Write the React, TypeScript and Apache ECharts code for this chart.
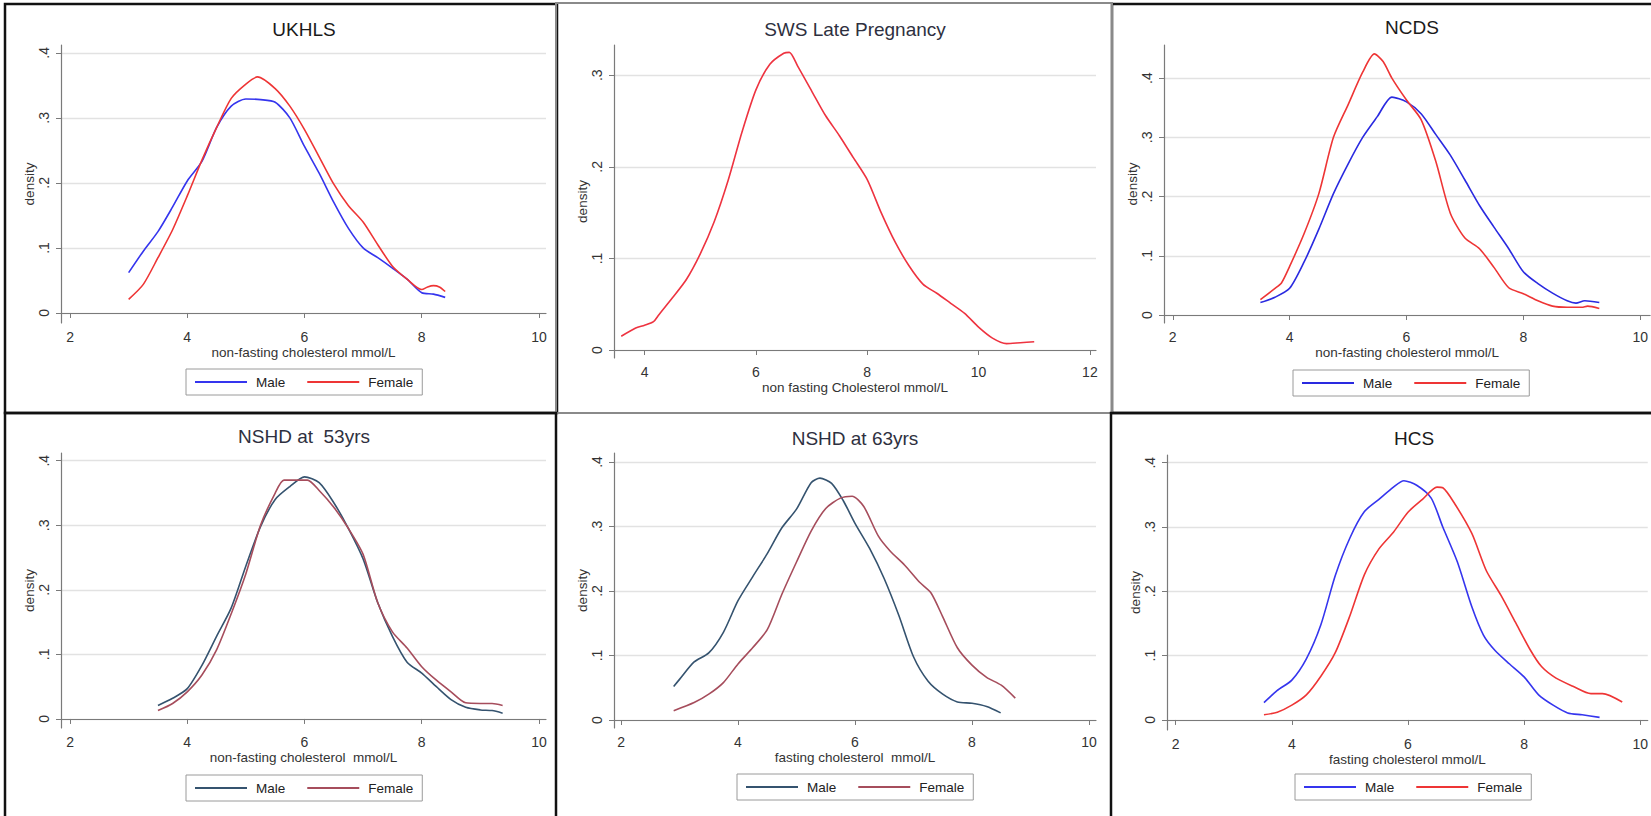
import React, { useEffect, useRef } from 'react';
import * as echarts from 'echarts';

// ---------- DATA ----------
const ukhlsMaleX = [3.0, 3.25, 3.5, 3.75, 4.0, 4.25, 4.5, 4.75, 5.0, 5.25, 5.5, 5.75, 6.0, 6.25, 6.5, 6.75, 7.0, 7.25, 7.5, 7.75, 8.0, 8.2, 8.4];
const ukhlsMaleY = [0.062, 0.095, 0.125, 0.163, 0.203, 0.233, 0.285, 0.318, 0.329, 0.328, 0.324, 0.3, 0.256, 0.215, 0.17, 0.13, 0.1, 0.085, 0.069, 0.052, 0.031, 0.029, 0.024];
const ukhlsFemaleX = [3.0, 3.25, 3.5, 3.75, 4.0, 4.25, 4.5, 4.75, 5.0, 5.2, 5.5, 5.75, 6.0, 6.25, 6.5, 6.75, 7.0, 7.25, 7.5, 7.75, 8.0, 8.1, 8.2, 8.3, 8.4];
const ukhlsFemaleY = [0.021, 0.044, 0.085, 0.128, 0.18, 0.235, 0.285, 0.33, 0.352, 0.363, 0.345, 0.318, 0.282, 0.24, 0.198, 0.165, 0.14, 0.105, 0.072, 0.052, 0.036, 0.04, 0.042, 0.04, 0.033];

const swsX = [3.58, 3.84, 4.0, 4.16, 4.25, 4.5, 4.75, 5.0, 5.25, 5.5, 5.75, 6.0, 6.25, 6.5, 6.6, 6.75, 7.0, 7.25, 7.5, 7.75, 8.0, 8.25, 8.5, 8.75, 9.0, 9.25, 9.5, 9.75, 10.0, 10.25, 10.5, 10.75, 11.0];
const swsY = [0.015, 0.024, 0.027, 0.031, 0.038, 0.057, 0.077, 0.105, 0.14, 0.185, 0.238, 0.284, 0.312, 0.324, 0.325, 0.31, 0.283, 0.256, 0.234, 0.21, 0.186, 0.15, 0.118, 0.092, 0.072, 0.062, 0.051, 0.04, 0.025, 0.013, 0.007, 0.008, 0.009];

const ncdsMaleX = [3.5, 3.75, 4.0, 4.25, 4.5, 4.75, 5.0, 5.25, 5.5, 5.75, 6.0, 6.25, 6.5, 6.75, 7.0, 7.25, 7.5, 7.75, 8.0, 8.25, 8.5, 8.75, 8.9, 9.05, 9.3];
const ncdsMaleY = [0.021, 0.03, 0.045, 0.09, 0.145, 0.205, 0.255, 0.3, 0.335, 0.368, 0.36, 0.34, 0.305, 0.27, 0.228, 0.185, 0.148, 0.112, 0.073, 0.053, 0.037, 0.024, 0.02, 0.024, 0.021];
const ncdsFemaleX = [3.5, 3.75, 3.86, 4.0, 4.25, 4.5, 4.75, 5.0, 5.25, 5.45, 5.6, 5.75, 6.0, 6.25, 6.5, 6.75, 7.0, 7.25, 7.5, 7.75, 8.0, 8.25, 8.5, 8.75, 9.0, 9.1, 9.3];
const ncdsFemaleY = [0.026, 0.045, 0.054, 0.082, 0.138, 0.205, 0.3, 0.355, 0.41, 0.441, 0.428, 0.4, 0.363, 0.33, 0.26, 0.172, 0.13, 0.112, 0.08, 0.046, 0.036, 0.024, 0.015, 0.013, 0.013, 0.015, 0.011];

const nshd53MaleX = [3.5, 3.75, 4.0, 4.25, 4.5, 4.75, 5.0, 5.25, 5.5, 5.75, 6.0, 6.25, 6.5, 6.75, 7.0, 7.25, 7.5, 7.75, 8.0, 8.25, 8.5, 8.75, 9.0, 9.2, 9.38];
const nshd53MaleY = [0.021, 0.032, 0.047, 0.083, 0.128, 0.172, 0.237, 0.298, 0.34, 0.36, 0.375, 0.366, 0.335, 0.295, 0.248, 0.18, 0.128, 0.088, 0.071, 0.05, 0.03, 0.018, 0.014, 0.013, 0.009];
const nshd53FemaleX = [3.5, 3.75, 4.0, 4.25, 4.5, 4.75, 5.0, 5.25, 5.5, 5.65, 5.9, 6.05, 6.25, 6.5, 6.75, 7.0, 7.25, 7.5, 7.75, 8.0, 8.25, 8.5, 8.75, 9.0, 9.2, 9.38];
const nshd53FemaleY = [0.013, 0.024, 0.042, 0.068, 0.107, 0.163, 0.225, 0.3, 0.35, 0.37, 0.37, 0.37, 0.354, 0.328, 0.295, 0.255, 0.18, 0.135, 0.11, 0.081, 0.06, 0.042, 0.025, 0.024, 0.024, 0.021];

const nshd63MaleX = [2.9, 3.0, 3.25, 3.5, 3.75, 4.0, 4.25, 4.5, 4.75, 5.0, 5.25, 5.4, 5.6, 5.8, 6.0, 6.25, 6.5, 6.75, 7.0, 7.25, 7.5, 7.75, 8.0, 8.25, 8.49];
const nshd63MaleY = [0.052, 0.063, 0.09, 0.104, 0.136, 0.185, 0.222, 0.258, 0.298, 0.327, 0.368, 0.375, 0.367, 0.34, 0.305, 0.266, 0.219, 0.162, 0.098, 0.06, 0.04, 0.028, 0.026, 0.021, 0.011];
const nshd63FemaleX = [2.9, 3.25, 3.5, 3.75, 4.0, 4.25, 4.5, 4.75, 5.0, 5.25, 5.5, 5.75, 5.95, 6.15, 6.4, 6.6, 6.85, 7.1, 7.3, 7.5, 7.75, 8.0, 8.25, 8.5, 8.74];
const nshd63FemaleY = [0.0145, 0.027, 0.04, 0.058, 0.087, 0.112, 0.14, 0.195, 0.245, 0.293, 0.328, 0.344, 0.347, 0.331, 0.285, 0.262, 0.24, 0.214, 0.197, 0.16, 0.112, 0.085, 0.066, 0.054, 0.034];

const hcsMaleX = [3.52, 3.75, 4.0, 4.25, 4.5, 4.75, 5.0, 5.25, 5.5, 5.75, 5.93, 6.15, 6.4, 6.6, 6.85, 7.1, 7.3, 7.5, 7.75, 8.0, 8.25, 8.5, 8.75, 9.0, 9.3];
const hcsMaleY = [0.027, 0.046, 0.062, 0.095, 0.148, 0.225, 0.283, 0.324, 0.343, 0.362, 0.372, 0.365, 0.345, 0.3, 0.246, 0.176, 0.132, 0.108, 0.087, 0.067, 0.039, 0.023, 0.011, 0.008, 0.004];
const hcsFemaleX = [3.52, 3.75, 4.0, 4.25, 4.5, 4.75, 5.0, 5.25, 5.5, 5.75, 6.0, 6.25, 6.5, 6.6, 6.8, 7.1, 7.35, 7.6, 7.85, 8.1, 8.3, 8.55, 8.85, 9.15, 9.35, 9.69];
const hcsFemaleY = [0.008, 0.012, 0.023, 0.039, 0.068, 0.105, 0.162, 0.226, 0.266, 0.292, 0.323, 0.343, 0.362, 0.361, 0.337, 0.29, 0.232, 0.194, 0.152, 0.11, 0.083, 0.065, 0.052, 0.041, 0.041, 0.028];

const xTicksMain = [2, 4, 6, 8, 10];
const xTicksSws = [4, 6, 8, 10, 12];
const yTicksMain = [0, 0.1, 0.2, 0.3, 0.4];
const yTicksSws = [0, 0.1, 0.2, 0.3];

const titles = ['UKHLS', 'SWS Late Pregnancy', 'NCDS', 'NSHD at  53yrs', 'NSHD at 63yrs', 'HCS'];
const xTitles = [
  'non-fasting cholesterol mmol/L',
  'non fasting Cholesterol mmol/L',
  'non-fasting cholesterol mmol/L',
  'non-fasting cholesterol  mmol/L',
  'fasting cholesterol  mmol/L',
  'fasting cholesterol mmol/L',
];
const sexLabels = ['Male', 'Female'];

// ---------- LAYOUT / STYLE ----------
const FONT = 'Liberation Sans, Arial, Helvetica, sans-serif';
const BLUE = '#3535ee';
const RED = '#ee3535';
const SLATE = '#35536f';
const ROSE = '#a64d5c';

const zip = (xs: number[], ys: number[]) => xs.map((x, i) => [x, ys[i]]);

type Panel = {
  grid: { left: number; top: number; width: number; height: number };
  x: [number, number];
  y: [number, number];
  xTicks: number[];
  yTicks: number[];
  titlePos: [number, number];
  titleColor: string;
  legendPos: [number, number] | null;
  series: { name: string; xs: number[]; ys: number[]; color: string }[];
};

const panels: Panel[] = [
  {
    grid: { left: 61, top: 45, width: 485, height: 278 },
    x: [1.846, 10.12], y: [-0.0154, 0.412], xTicks: xTicksMain, yTicks: yTicksMain,
    titlePos: [304, 30], titleColor: '#1a1a1a', legendPos: [186, 369],
    series: [
      { name: 'Male', xs: ukhlsMaleX, ys: ukhlsMaleY, color: BLUE },
      { name: 'Female', xs: ukhlsFemaleX, ys: ukhlsFemaleY, color: RED },
    ],
  },
  {
    grid: { left: 614, top: 45, width: 482, height: 313 },
    x: [3.45, 12.11], y: [-0.0087, 0.333], xTicks: xTicksSws, yTicks: yTicksSws,
    titlePos: [855, 30], titleColor: '#2e3040', legendPos: null,
    series: [{ name: 'SWS', xs: swsX, ys: swsY, color: '#ee3340' }],
  },
  {
    grid: { left: 1164, top: 45, width: 496, height: 278 },
    x: [1.85, 10.17], y: [-0.0135, 0.456], xTicks: xTicksMain, yTicks: yTicksMain,
    titlePos: [1412, 28], titleColor: '#1a1a1a', legendPos: [1293, 370],
    series: [
      { name: 'Male', xs: ncdsMaleX, ys: ncdsMaleY, color: '#2a2ae0' },
      { name: 'Female', xs: ncdsFemaleX, ys: ncdsFemaleY, color: RED },
    ],
  },
  {
    grid: { left: 61, top: 453, width: 485, height: 275 },
    x: [1.846, 10.12], y: [-0.014, 0.412], xTicks: xTicksMain, yTicks: yTicksMain,
    titlePos: [304, 437], titleColor: '#2e3040', legendPos: [186, 775],
    series: [
      { name: 'Male', xs: nshd53MaleX, ys: nshd53MaleY, color: SLATE },
      { name: 'Female', xs: nshd53FemaleX, ys: nshd53FemaleY, color: ROSE },
    ],
  },
  {
    grid: { left: 614, top: 453, width: 482, height: 275 },
    x: [1.88, 10.12], y: [-0.0124, 0.414], xTicks: xTicksMain, yTicks: yTicksMain,
    titlePos: [855, 439], titleColor: '#2e3040', legendPos: [737, 774],
    series: [
      { name: 'Male', xs: nshd63MaleX, ys: nshd63MaleY, color: SLATE },
      { name: 'Female', xs: nshd63FemaleX, ys: nshd63FemaleY, color: ROSE },
    ],
  },
  {
    grid: { left: 1167, top: 455, width: 493, height: 275 },
    x: [1.85, 10.13], y: [-0.0156, 0.412], xTicks: xTicksMain, yTicks: yTicksMain,
    titlePos: [1414, 439], titleColor: '#1a1a1a', legendPos: [1295, 774],
    series: [
      { name: 'Male', xs: hcsMaleX, ys: hcsMaleY, color: BLUE },
      { name: 'Female', xs: hcsFemaleX, ys: hcsFemaleY, color: RED },
    ],
  },
];

const yFmt = (v: number) => (Math.abs(v) < 1e-9 ? '0' : '.' + Math.round(v * 10));

function buildOption() {
  const axisColor = '#7a7a7a';
  const labelColor = '#333';
  const grid = panels.map((p) => ({ ...p.grid, containLabel: false }));
  const xAxis = panels.map((p, i) => ({
    type: 'value', gridIndex: i, min: p.x[0], max: p.x[1],
    name: xTitles[i], nameLocation: 'middle', nameGap: 22,
    nameTextStyle: { fontSize: 13.5, color: labelColor, fontFamily: FONT },
    axisLine: { show: true, lineStyle: { color: axisColor, width: 1.2 } },
    axisTick: { show: true, length: 5, customValues: p.xTicks, lineStyle: { color: axisColor } },
    axisLabel: { customValues: p.xTicks, margin: 7, fontSize: 14, color: labelColor, fontFamily: FONT },
    splitLine: { show: false },
  }));
  const yAxis = panels.map((p, i) => ({
    type: 'value', gridIndex: i, min: p.y[0], max: p.y[1],
    name: 'density', nameLocation: 'middle', nameGap: 25,
    nameTextStyle: { fontSize: 13.5, color: labelColor, fontFamily: FONT },
    axisLine: { show: true, lineStyle: { color: axisColor, width: 1.2 } },
    axisTick: { show: true, length: 5, customValues: p.yTicks, lineStyle: { color: axisColor } },
    axisLabel: { customValues: p.yTicks, rotate: 90, margin: 10, fontSize: 14, color: labelColor, fontFamily: FONT, formatter: yFmt },
    splitLine: { show: true, customValues: p.yTicks, lineStyle: { color: '#e2e2e2', width: 1.3 } },
  }));
  const series: any[] = [];
  panels.forEach((p, i) => {
    p.series.forEach((s) => {
      series.push({
        type: 'line', name: titles[i] + '|' + s.name, xAxisIndex: i, yAxisIndex: i,
        data: zip(s.xs, s.ys), symbol: 'none', showSymbol: false, smooth: 0.25,
        lineStyle: { color: s.color, width: 1.6 }, itemStyle: { color: s.color },
      });
    });
  });
  const title = panels.map((p, i) => ({
    text: titles[i], left: p.titlePos[0], top: p.titlePos[1] - 10, textAlign: 'center', padding: 0,
    textStyle: { fontSize: 19, fontWeight: 'normal', color: p.titleColor, fontFamily: FONT },
  }));
  const legend = panels
    .map((p, i) => ({ p, i }))
    .filter(({ p }) => p.legendPos)
    .map(({ p, i }) => ({
      left: p.legendPos![0], top: p.legendPos![1], orient: 'horizontal',
      data: sexLabels.map((s) => titles[i] + '|' + s),
      formatter: (n: string) => n.split('|')[1],
      icon: 'rect', itemWidth: 52, itemHeight: 2, itemGap: 22,
      padding: [6, 9], borderColor: '#9a9a9a', borderWidth: 1, backgroundColor: '#fff',
      selectedMode: false,
      textStyle: { fontSize: 13.5, color: '#222', fontFamily: FONT, padding: [0, 0, 0, 4] },
    }));
  const rect = (x1: number, y1: number, x2: number, y2: number, color: string, w: number, z: number) => ({
    type: 'rect', shape: { x: x1, y: y1, width: x2 - x1, height: y2 - y1 },
    style: { fill: 'none', stroke: color, lineWidth: w }, z, silent: true,
  });
  const graphic = [
    rect(5, 4, 557, 413, '#111', 2.5, 100),
    rect(1112, 4, 1664, 413, '#111', 2.5, 100),
    rect(556, 3, 1112, 413, '#8a8a8a', 2, 101),
    rect(556, 413, 1111, 830, '#8a8a8a', 2, 101),
    rect(5, 413, 556, 830, '#111', 2.5, 102),
    rect(1111, 413, 1664, 830, '#111', 2.5, 102),
  ];
  return {
    animation: false,
    backgroundColor: '#ffffff',
    textStyle: { fontFamily: FONT },
    title, legend, grid, xAxis, yAxis, series, graphic,
  };
}

export default function App() {
  const ref = useRef<HTMLDivElement>(null);
  useEffect(() => {
    if (!ref.current) return;
    const chart = echarts.init(ref.current, undefined, { renderer: 'svg' });
    chart.setOption(buildOption() as any);
    return () => chart.dispose();
  }, []);
  return (
    <div
      ref={ref}
      style={{ position: 'absolute', left: 0, top: 0, width: 1651, height: 816, background: '#fff' }}
    />
  );
}
